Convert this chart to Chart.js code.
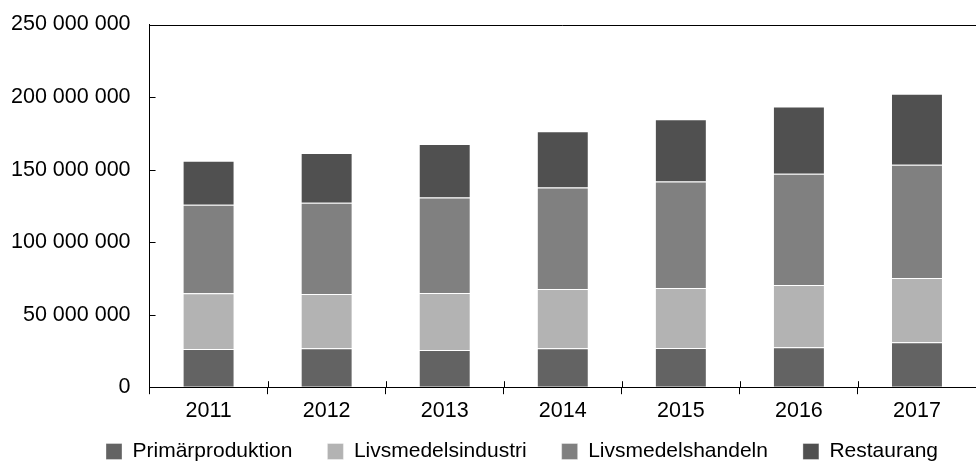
<!DOCTYPE html>
<html>
<head>
<meta charset="utf-8">
<script src="https://cdn.jsdelivr.net/npm/chart.js@4.4.1/dist/chart.umd.min.js"></script>
<style>
  html, body { margin: 0; padding: 0; background: #fff; }
  #wrap { position: relative; width: 976px; height: 464px; }
</style>
</head>
<body>
<div id="wrap"><canvas id="chartContainer"></canvas></div>
<script>
// data (SEK)
const years = ['2011', '2012', '2013', '2014', '2015', '2016', '2017'];
const primarproduktion = [26300000, 26800000, 25600000, 26800000, 27000000, 27500000, 31000000];
const livsmedelsindustri = [38400000, 37400000, 39300000, 40900000, 41300000, 42900000, 44300000];
const livsmedelshandeln = [61100000, 63000000, 65800000, 69900000, 73500000, 76700000, 78000000];
const restaurang = [30300000, 34200000, 36900000, 38800000, 42900000, 46400000, 48900000];
const seriesNames = ['Primärproduktion', 'Livsmedelsindustri', 'Livsmedelshandeln', 'Restaurang'];
const seriesColors = ['#636363', '#b3b3b3', '#808080', '#505050'];

function spaced(v) {
    return String(v).replace(/\B(?=(\d{3})+(?!\d))/g, ' ');
}

// inner ticks + top frame line like the original, and legend placement
const frame = {
    id: 'frame',
    afterLayout(chart) {
        const lg = chart.legend;
        // legend in the original is a bit right of centre and lower down
        const dx = 522 - (lg.left + lg.right) / 2;
        lg.left += dx;
        lg.right += dx;
        const dy = 406 - lg.top;
        lg.top += dy;
        lg.bottom += dy;
    },
    afterDatasetsDraw(chart) {
        const ctx = chart.ctx;
        const a = chart.chartArea;
        const y = chart.scales.y;
        const x = chart.scales.x;
        ctx.save();
        ctx.strokeStyle = '#000';
        ctx.lineWidth = 1;
        ctx.beginPath();
        ctx.moveTo(a.left, Math.round(a.top) + 0.5);
        ctx.lineTo(a.right, Math.round(a.top) + 0.5);
        y.ticks.forEach(function(t) {
            if (t.value === 0 || t.value === y.max) return;
            const py = Math.round(y.getPixelForValue(t.value)) + 0.5;
            ctx.moveTo(a.left, py);
            ctx.lineTo(a.left + 6, py);
        });
        // small upward part of the category ticks
        for (let i = 0; i < years.length - 1; i++) {
            const px = Math.round((x.getPixelForValue(i) + x.getPixelForValue(i + 1)) / 2) + 0.5;
            ctx.moveTo(px, a.bottom);
            ctx.lineTo(px, a.bottom - 6);
        }
        ctx.stroke();
        ctx.restore();
    }
};

const data = [primarproduktion, livsmedelsindustri, livsmedelshandeln, restaurang];

var ctx = document.getElementById('chartContainer').getContext('2d');
window.myBarChart = new Chart(ctx, {
    type: 'bar',
    data: {
        labels: years,
        datasets: data.map(function(d, i) {
            return {
                label: seriesNames[i],
                data: d,
                backgroundColor: seriesColors[i],
                borderColor: 'rgba(255,255,255,0.35)',
                borderWidth: 1,
                categoryPercentage: 1,
                barPercentage: 0.44
            };
        })
    },
    options: {
        responsive: true,
        maintainAspectRatio: false,
        animation: false,
        layout: {
            autoPadding: false,
            padding: { top: 24.5, left: -8, right: 0, bottom: -30 }
        },
        scales: {
            x: {
                stacked: true,
                grid: {
                    offset: true,
                    drawOnChartArea: false,
                    color: '#000',
                    tickLength: 7
                },
                border: { color: '#000', width: 1 },
                ticks: {
                    color: '#000',
                    padding: 4,
                    font: { family: 'Liberation Sans', size: 21.5 }
                }
            },
            y: {
                stacked: true,
                min: 0,
                max: 250000000,
                afterFit: function(scale) {
                    scale.paddingTop = 0;
                },
                grid: {
                    drawOnChartArea: false,
                    drawTicks: false
                },
                border: { color: '#000', width: 1 },
                ticks: {
                    stepSize: 50000000,
                    color: '#000',
                    padding: 19,
                    font: { family: 'Liberation Sans', size: 21.5 },
                    callback: function(value) { return spaced(value); }
                }
            }
        },
        plugins: {
            legend: {
                position: 'bottom',
                labels: {
                    color: '#000',
                    boxWidth: 16,
                    boxHeight: 16,
                    padding: 35,
                    font: { family: 'Liberation Sans', size: 21 }
                }
            },
            tooltip: { enabled: false }
        }
    },
    plugins: [frame]
});
</script>
</body>
</html>
